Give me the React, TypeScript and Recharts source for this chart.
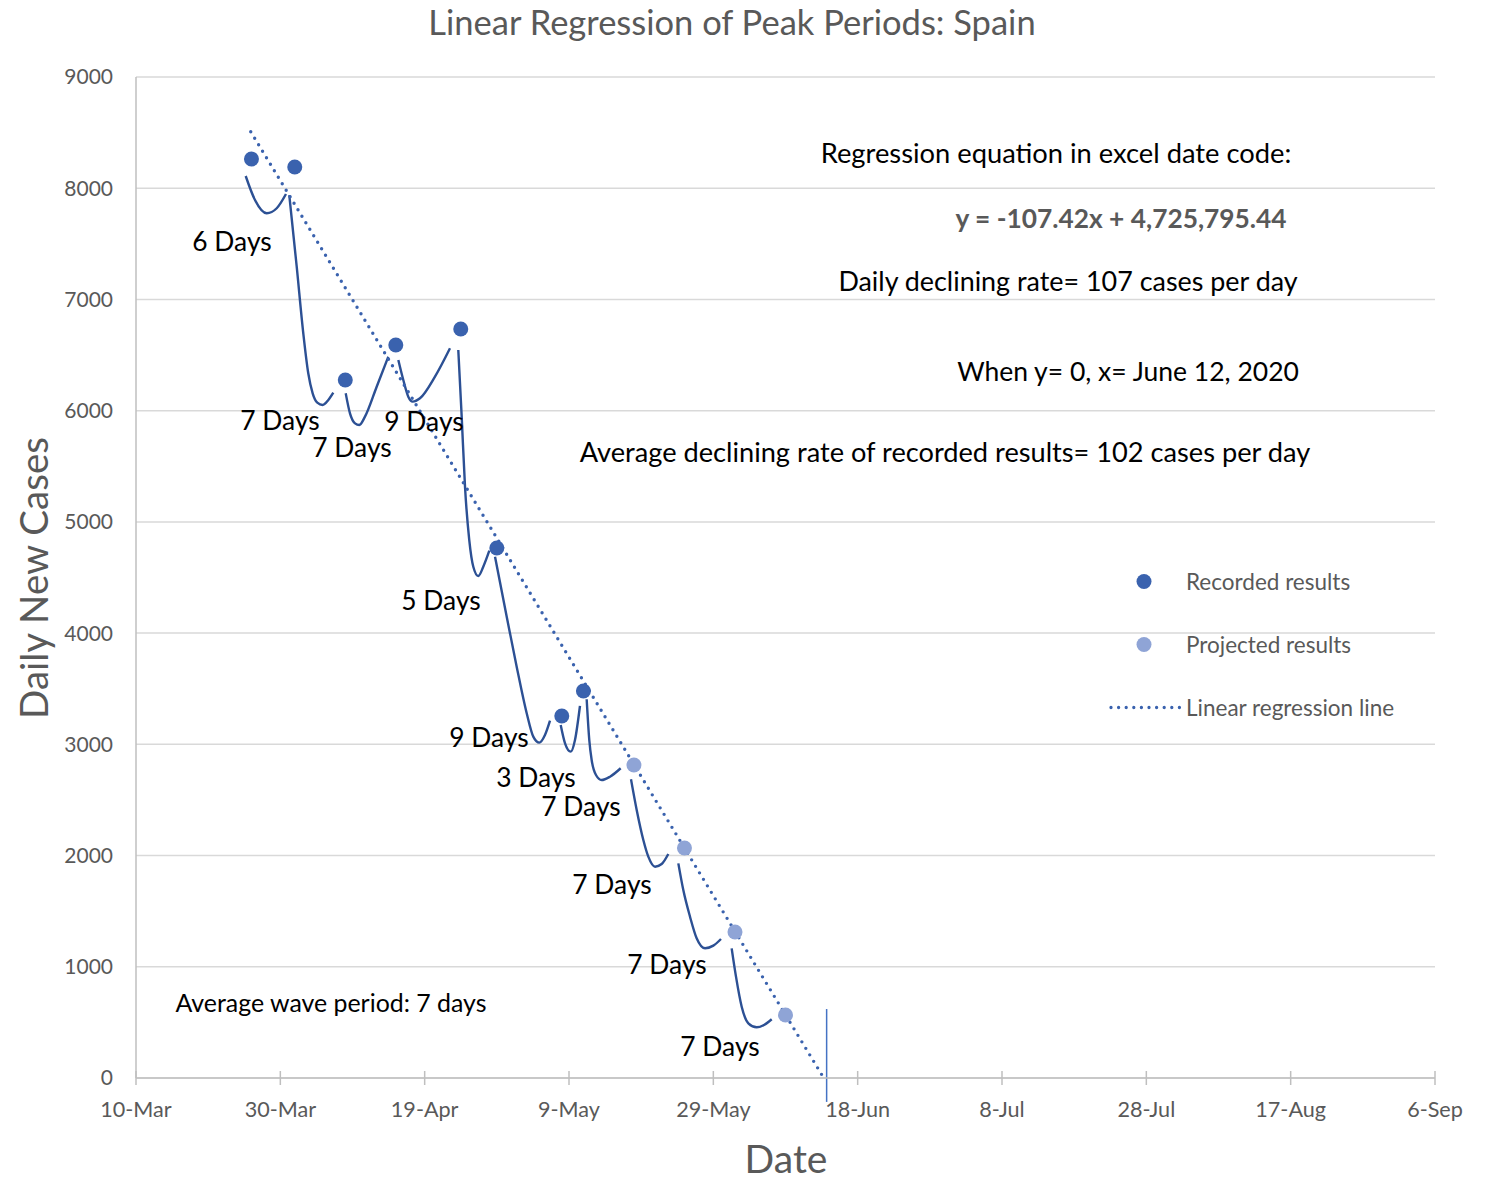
import React from 'react';
import {
  ComposedChart,
  Line,
  Scatter,
  XAxis,
  YAxis,
  CartesianGrid,
  ReferenceLine,
  Legend,
} from 'recharts';

// ---------- DATA ----------
const xTicks = [43900, 43920, 43940, 43960, 43980, 44000, 44020, 44040, 44060, 44080];
const xTickLabels = ['10-Mar', '30-Mar', '19-Apr', '9-May', '29-May', '18-Jun', '8-Jul', '28-Jul', '17-Aug', '6-Sep'];
const yTicks = [0, 1000, 2000, 3000, 4000, 5000, 6000, 7000, 8000, 9000];

// Excel date codes of the peaks and their daily new cases
const recordedDates = [43916, 43922, 43929, 43936, 43945, 43950, 43959, 43962];
const recordedCases = [8263, 8191, 6276, 6590, 6734, 4765, 3255, 3480];
const projectedDates = [43969, 43976, 43983, 43990];
const projectedCases = [2814, 2068, 1313, 566];

// Linear regression line (ends)
const regressionDates = [43915.9, 43995.3];
const regressionCases = [8508, 0];

// Vertical marker where the regression reaches zero
const zeroMarkerDate = 43995.7;
const zeroMarkerCases = [620, -215];

// Wave (trough) curves between peaks
const waveDates: number[][] = [
  [43915.2, 43916.49, 43918.11, 43919.5, 43920.78],
  [43921.24, 43922.27, 43923.18, 43923.87, 43924.48, 43925.12, 43925.87, 43926.65, 43927.34],
  [43929.06, 43929.65, 43930.35, 43930.94, 43931.73, 43933.35, 43934.96],
  [43936.35, 43937.04, 43937.73, 43938.34, 43939.35, 43941.43, 43943.51],
  [43944.66, 43945.13, 43945.59, 43946.18, 43946.74, 43947.43, 43948.12, 43948.96],
  [43949.75, 43951.37, 43952.75, 43954.14, 43955.05, 43955.88, 43956.67, 43957.37],
  [43958.85, 43959.45, 43960.24, 43960.83, 43961.52],
  [43962.45, 43962.81, 43963.14, 43963.74, 43964.53, 43965.68, 43967.16],
  [43968.59, 43969.38, 43970.3, 43970.99, 43971.92, 43972.84, 43973.76],
  [43975.15, 43975.84, 43976.77, 43977.69, 43978.85, 43980.0, 43981.06],
  [43982.54, 43983.14, 43983.93, 43984.85, 43986.01, 43987.02, 43988.09],
];
const waveCases: number[][] = [
  [8110, 7894, 7775, 7820, 7948],
  [7939, 7294, 6696, 6336, 6156, 6072, 6051, 6096, 6162],
  [6156, 5976, 5886, 5871, 5946, 6215, 6485],
  [6456, 6276, 6126, 6081, 6111, 6306, 6561],
  [6545, 5946, 5316, 4837, 4597, 4513, 4597, 4741],
  [4687, 4148, 3698, 3279, 3069, 3015, 3084, 3213],
  [3174, 3009, 2934, 3039, 3345],
  [3405, 3039, 2859, 2724, 2679, 2709, 2785],
  [2686, 2410, 2140, 1990, 1900, 1924, 2014],
  [1930, 1690, 1450, 1256, 1166, 1190, 1250],
  [1166, 911, 641, 492, 456, 477, 528],
];
const waveLabels = ['6 Days', '7 Days', '7 Days', '9 Days', '5 Days', '9 Days', '3 Days', '7 Days', '7 Days', '7 Days', '7 Days'];

const legendLabels = ['Recorded results', 'Projected results', 'Linear regression line'];

const titleText = 'Linear Regression of Peak Periods: Spain';
const xTitle = 'Date';
const yTitle = 'Daily New Cases';
const notes = [
  'Regression equation in excel date code:',
  'y = -107.42x + 4,725,795.44',
  'Daily declining rate= 107 cases per day',
  'When y= 0, x= June 12, 2020',
  'Average declining rate of recorded results= 102 cases per day',
  'Average wave period: 7 days',
];

// ---------- LAYOUT / STYLE ----------
const W = 1498;
const H = 1179;
const FONT = 'Lato, "Open Sans", sans-serif';
const GREY = '#595959';
const DARK = '#3A62AE';
const LIGHT = '#8FA4D6';
const CURVE = '#2C5094';

const waveLabelPos = [
  [232, 241], [280, 420], [352, 447], [424, 421], [441, 600], [489, 737],
  [536, 777], [581, 806], [612, 884], [667, 964], [720, 1046],
];
const notePos = [
  { cx: 1056, cy: 153, size: 27.3, weight: 400, color: '#000' },
  { cx: 1121, cy: 218, size: 26.3, weight: 700, color: GREY },
  { cx: 1068, cy: 281, size: 26.9, weight: 400, color: '#000' },
  { cx: 1128, cy: 371, size: 26.5, weight: 400, color: '#000' },
  { cx: 945, cy: 452, size: 27.2, weight: 400, color: '#000' },
  { cx: 331, cy: 1002, size: 24.9, weight: 400, color: '#000' },
];

const toPoints = (xs: number[], ys: number[]) => xs.map((x, i) => ({ x, y: ys[i] }));

const recordedData = toPoints(recordedDates, recordedCases);
const projectedData = toPoints(projectedDates, projectedCases);
const regressionData = toPoints(regressionDates, regressionCases);
const waveData = waveDates.map((xs, i) => toPoints(xs, waveCases[i]));

const XTick = (props: any) => {
  const { x, y, payload } = props;
  const idx = xTicks.indexOf(payload.value);
  return (
    <g>
      <line x1={x} x2={x} y1={y - 7} y2={y + 7} stroke="#BFBFBF" strokeWidth={1.5} />
      <text x={x} y={y + 39} textAnchor="middle" fill={GREY} fontSize={21.6} fontFamily={FONT}>
        {xTickLabels[idx]}
      </text>
    </g>
  );
};

const Dot = (color: string) => (p: any) => <circle cx={p.cx} cy={p.cy} r={7.5} fill={color} />;

const LegendContent = () => (
  <div style={{ fontFamily: FONT }}>
    {legendLabels.map((label, i) => (
      <div key={label} style={{ display: 'flex', alignItems: 'center', height: 63 }}>
        <svg width={82} height={63} style={{ display: 'block' }}>
          {i < 2 ? (
            <circle cx={40} cy={31.5} r={7.5} fill={i === 0 ? DARK : LIGHT} />
          ) : (
            <line x1={7} x2={76} y1={31.5} y2={31.5} stroke={DARK} strokeWidth={3.3} strokeDasharray="0 7.6" strokeLinecap="round" />
          )}
        </svg>
        <span style={{ fontSize: 22.5, color: GREY, whiteSpace: 'nowrap' }}>{label}</span>
      </div>
    ))}
  </div>
);

const textStyle = (cx: number, cy: number, size: number, color: string, weight = 400): React.CSSProperties => ({
  position: 'absolute',
  left: cx,
  top: cy,
  transform: 'translate(-50%, -50%)',
  fontSize: size,
  color,
  fontWeight: weight,
  fontFamily: FONT,
  whiteSpace: 'nowrap',
  lineHeight: 1,
});

export default function App() {
  return (
    <div style={{ position: 'absolute', left: 0, top: 0, width: W, height: H, background: '#fff', fontFamily: FONT }}>
      <ComposedChart width={W} height={H} margin={{ top: 77, right: 63, bottom: 41, left: 76 }}>
        <CartesianGrid vertical={false} stroke="#D9D9D9" strokeWidth={1.5} />
        <XAxis
          type="number"
          dataKey="x"
          domain={[43900, 44080]}
          ticks={xTicks}
          height={60}
          tickSize={0}
          tickMargin={0}
          tickLine={false}
          tick={<XTick />}
          stroke="#BFBFBF"
          strokeWidth={1.5}
          interval={0}
        />
        <YAxis
          type="number"
          domain={[0, 9000]}
          ticks={yTicks}
          width={60}
          tickSize={0}
          tickMargin={23}
          tickLine={false}
          stroke="#BFBFBF"
          strokeWidth={1.5}
          tick={{ fill: GREY, fontSize: 21, fontFamily: FONT }}
          interval={0}
        />
        {waveData.map((d, i) => (
          <Line
            key={'wave' + i}
            data={d}
            dataKey="y"
            type="monotone"
            stroke={CURVE}
            strokeWidth={2.4}
            dot={false}
            activeDot={false}
            legendType="none"
            isAnimationActive={false}
          />
        ))}
        <Scatter name="Projected results" data={projectedData} dataKey="y" fill={LIGHT} shape={Dot(LIGHT)} isAnimationActive={false} />
        <Line
          name="Linear regression line"
          data={regressionData}
          dataKey="y"
          type="linear"
          stroke={DARK}
          strokeWidth={3.4}
          strokeDasharray="0 7.6"
          strokeLinecap="round"
          dot={false}
          activeDot={false}
          isAnimationActive={false}
        />
        <Scatter name="Recorded results" data={recordedData} dataKey="y" fill={DARK} shape={Dot(DARK)} isAnimationActive={false} />
        <ReferenceLine
          segment={[
            { x: zeroMarkerDate, y: zeroMarkerCases[0] },
            { x: zeroMarkerDate, y: zeroMarkerCases[1] },
          ]}
          stroke="#4472C4"
          strokeWidth={1.5}
          ifOverflow="visible"
        />
        <Legend
          layout="vertical"
          align="center"
          verticalAlign="middle"
          content={<LegendContent />}
          wrapperStyle={{ position: 'absolute', left: 1104, top: 550, width: 340, height: 189 }}
        />
      </ComposedChart>

      <div style={textStyle(732, 22, 34.5, GREY)}>{titleText}</div>
      <div style={textStyle(786, 1158, 39, GREY)}>{xTitle}</div>
      <div style={{ ...textStyle(33, 578, 38.5, GREY), transform: 'translate(-50%, -50%) rotate(-90deg)' }}>{yTitle}</div>

      {waveLabels.map((t, i) => (
        <div key={'wl' + i} style={textStyle(waveLabelPos[i][0], waveLabelPos[i][1], 26.4, '#000')}>{t}</div>
      ))}
      {notes.map((t, i) => (
        <div key={'n' + i} style={textStyle(notePos[i].cx, notePos[i].cy, notePos[i].size, notePos[i].color, notePos[i].weight)}>{t}</div>
      ))}
    </div>
  );
}
